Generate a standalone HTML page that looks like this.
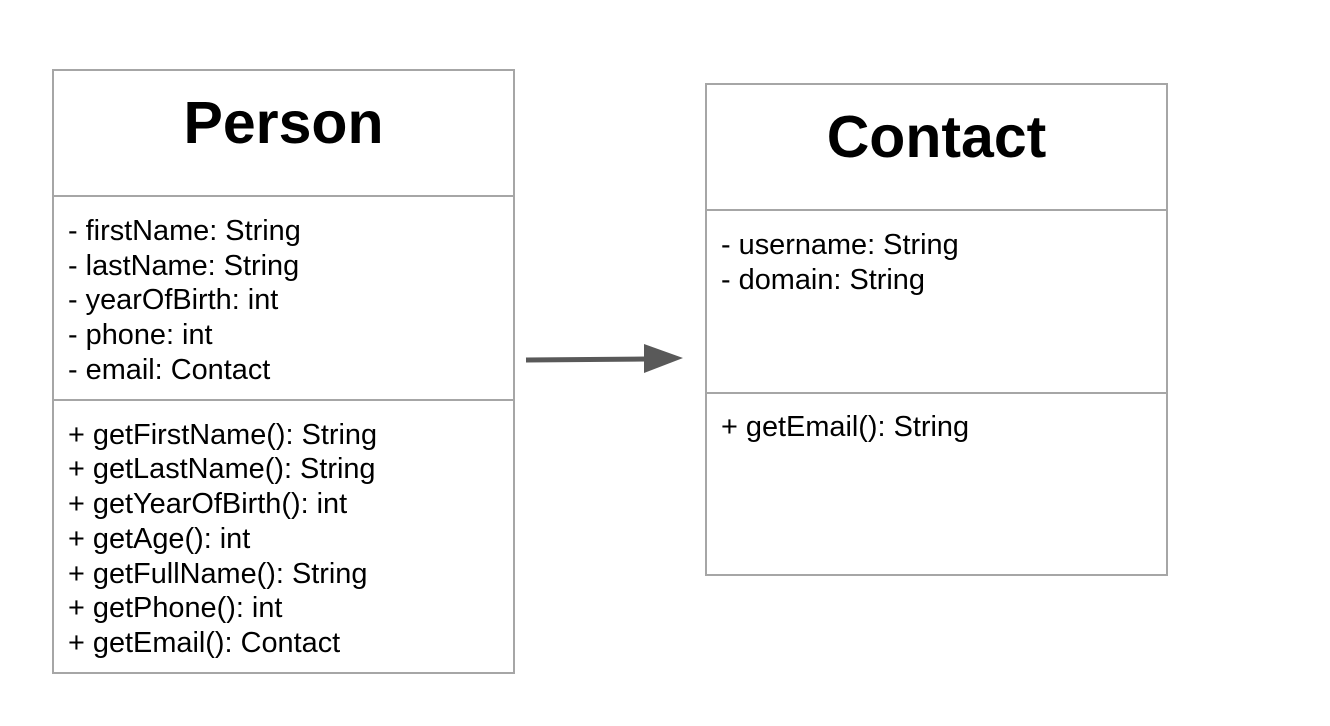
<!DOCTYPE html>
<html><head><meta charset="utf-8"><style>
html,body{margin:0;padding:0;background:#fff;}
svg{display:block;}
text{font-family:"Liberation Sans",Arial,sans-serif;fill:#000;}
.b{font-size:28.9px;}
.t{font-size:59px;font-weight:bold;}
</style></head><body>
<svg width="1330" height="726" viewBox="0 0 1330 726">
<g fill="none" stroke="#a6a6a6" stroke-width="2">
<rect x="53" y="70" width="461" height="603"/>
<line x1="53" y1="196" x2="514" y2="196"/>
<line x1="53" y1="400" x2="514" y2="400"/>
<rect x="706" y="84" width="461" height="491"/>
<line x1="706" y1="210" x2="1167" y2="210"/>
<line x1="706" y1="393" x2="1167" y2="393"/>
</g>
<text class="t" x="283.5" y="143" text-anchor="middle">Person</text>
<text class="t" x="936.5" y="157" text-anchor="middle">Contact</text>
<g class="b">
<text class="b" x="68" y="240">- firstName: String</text>
<text class="b" x="68" y="275">- lastName: String</text>
<text class="b" x="68" y="309">- yearOfBirth: int</text>
<text class="b" x="68" y="344">- phone: int</text>
<text class="b" x="68" y="379">- email: Contact</text>
<text class="b" x="68" y="444">+ getFirstName(): String</text>
<text class="b" x="68" y="478">+ getLastName(): String</text>
<text class="b" x="68" y="513">+ getYearOfBirth(): int</text>
<text class="b" x="68" y="548">+ getAge(): int</text>
<text class="b" x="68" y="583">+ getFullName(): String</text>
<text class="b" x="68" y="617">+ getPhone(): int</text>
<text class="b" x="68" y="652">+ getEmail(): Contact</text>
<text class="b" x="721" y="254">- username: String</text>
<text class="b" x="721" y="289">- domain: String</text>
<text class="b" x="721" y="436">+ getEmail(): String</text>
</g>
<line x1="526" y1="360" x2="646" y2="359" stroke="#595959" stroke-width="5"/>
<polygon points="644,344 683,358 644,373" fill="#595959"/>
</svg>
</body></html>
